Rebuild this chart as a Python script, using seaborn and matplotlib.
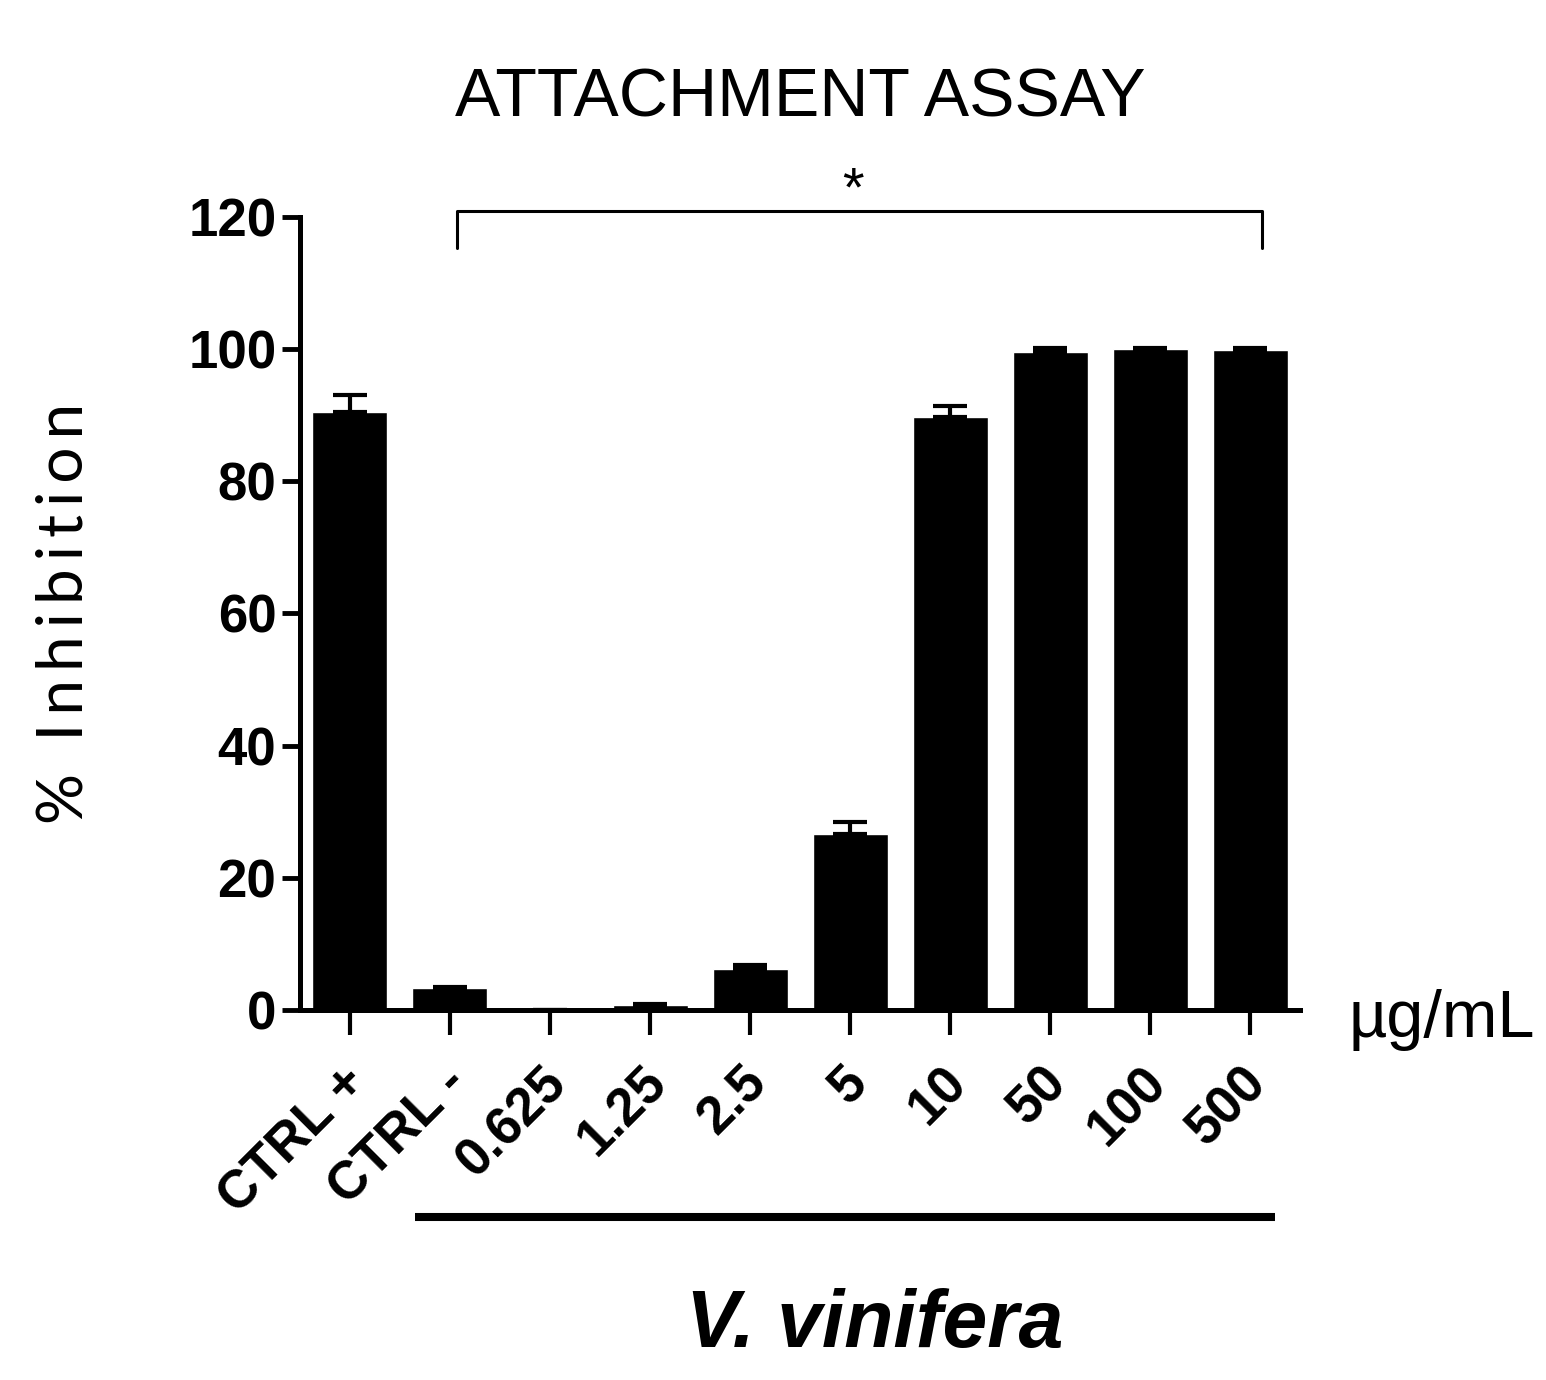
import pandas as pd
import seaborn as sns
import matplotlib.pyplot as plt
import matplotlib.transforms as mtransforms

# datos
categorias = ["CTRL +", "CTRL -", "0.625", "1.25", "2.5", "5", "10", "50", "100", "500"]
inhibicion = [90.5, 3.3, 0.0, 0.8, 6.3, 26.6, 89.7, 99.6, 100.0, 99.8]
error_sup = [2.5, 0.2, 0.0, 0.2, 0.5, 1.8, 1.7, 0.6, 0.2, 0.4]
tick_y = [0, 20, 40, 60, 80, 100, 120]

df = pd.DataFrame({"grupo": categorias, "inhibicion": inhibicion, "err": error_sup})

sns.set_style("ticks")
plt.rcParams["font.family"] = ["Liberation Sans", "DejaVu Sans"]
for k in ["text.color", "axes.labelcolor", "xtick.color", "ytick.color", "axes.edgecolor"]:
    plt.rcParams[k] = "black"

fig = plt.figure(figsize=(15.46, 13.8), dpi=100)
ax = fig.add_axes([0.194, 0.268, 0.647, 0.575])

sns.barplot(data=df, x="grupo", y="inhibicion", color="black", saturation=1,
            width=0.75, errorbar=None, ax=ax)
# barra de error solo hacia arriba
ax.errorbar(range(len(categorias)), df["inhibicion"], yerr=[[0] * len(categorias), df["err"]],
            fmt="none", ecolor="black", elinewidth=3, capsize=12, capthick=3)

ax.set_xlim(-0.5, 9.5)
ax.set_ylim(0, 120)
ax.set_yticks(tick_y)
ax.set_yticklabels([str(t) for t in tick_y], fontsize=38, fontweight="bold")
ax.set_xticks(range(len(categorias)))
ax.set_xticklabels(categorias, fontsize=38, fontweight="bold", rotation=45,
                   ha="right", rotation_mode="anchor")
ax.tick_params(axis="x", length=18, width=3, pad=16)
ax.tick_params(axis="y", length=13, width=3.5, pad=4)
# mover las etiquetas un poco a la izquierda (despues de tick_params)
desplaza = mtransforms.ScaledTranslation(-0.09, 0, fig.dpi_scale_trans)
for lab in ax.get_xticklabels():
    lab.set_transform(lab.get_transform() + desplaza)
sns.despine(ax=ax)
for s in ["left", "bottom"]:
    ax.spines[s].set_linewidth(3.6)
    ax.spines[s].set_capstyle("projecting")
ax.set_xlabel("")
# espaciado entre letras como en el original
etiqueta_y = "\u2009".join("% Inhibition")
ax.set_ylabel(etiqueta_y, fontsize=46, family=["Lato", "DejaVu Sans"], labelpad=68)

ax.set_title("ATTACHMENT ASSAY", fontsize=49, pad=72)

# corchete de significancia
i0, i1 = categorias.index("CTRL -"), categorias.index("500")
ax.plot([i0 + 0.07, i0 + 0.07, i1 + 0.12, i1 + 0.12], [115.2, 120.8, 120.8, 115.2],
        color="black", lw=2.2, clip_on=False)
ax.text((i0 + i1) / 2 + 0.03, 119.9, "*", ha="center", va="bottom", fontsize=40)

# linea bajo las concentraciones
trans = mtransforms.blended_transform_factory(ax.transData, ax.transAxes)
ax.plot([i0 - 0.35, i1 + 0.25], [-0.261, -0.261], color="black", lw=5.8,
        transform=trans, clip_on=False, solid_capstyle="butt")
ax.text((i0 + i1) / 2 + 0.25, -0.35, "V. vinifera", transform=trans, ha="center", va="top",
        fontsize=58, fontweight="bold", fontstyle="italic")

ax.text(1.048, -0.013, "µg/mL", transform=ax.transAxes, ha="left", va="center", fontsize=48)

fig.savefig("out.png", dpi=100)
